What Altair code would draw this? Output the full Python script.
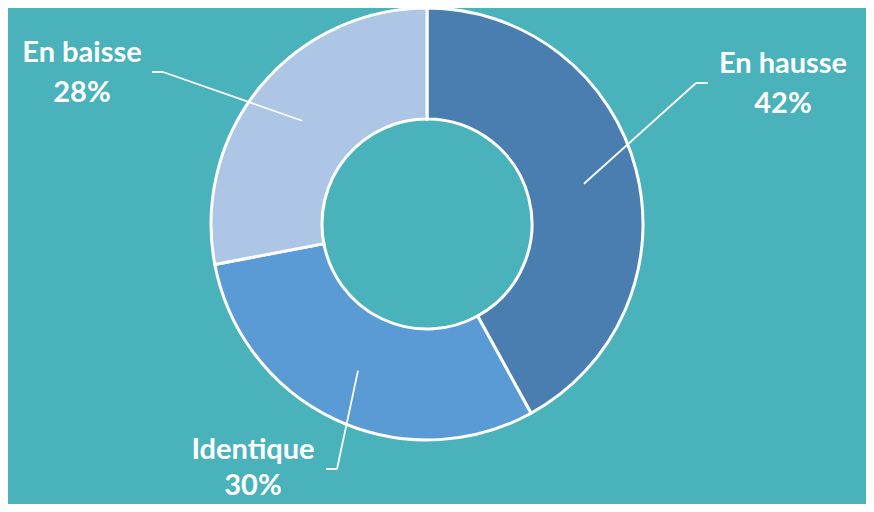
import math
import altair as alt
import pandas as pd

# ---- data ----
categories = ["En hausse", "Identique", "En baisse"]
shares = [42, 30, 28]
pct_labels = ["42%", "30%", "28%"]

# ---- style ----
colors = ["#4A7EB0", "#5B9BD5", "#ADC6E6"]
BG = "#49B2BB"
FONT = "Lato"

W, H = 858, 496
CX, CY = 419, 216
R_OUT, R_IN = 216, 105
R_LEAD = 162

# label layout in plot pixels: elbow of leader, end of short tick, text centre x,
# first baseline y, gap to second line
layout = {
    "En hausse": dict(elbow=(688, 75), end=(700, 75), tx=775, ty=65, gap=40),
    "Identique": dict(elbow=(329, 461), end=(318, 461), tx=245, ty=451, gap=36),
    "En baisse": dict(elbow=(155, 64), end=(144, 64), tx=74, ty=54, gap=40),
}

df = pd.DataFrame({"cat": categories, "share": shares, "pct": pct_labels,
                   "idx": list(range(len(categories)))})

total = sum(shares)
seg_rows, lab_rows = [], []
cum = 0
for c, s, p in zip(categories, shares, pct_labels):
    mid = (cum + s / 2) / total * 2 * math.pi
    cum += s
    sx = CX + R_LEAD * math.sin(mid)
    sy = CY - R_LEAD * math.cos(mid)
    L = layout[c]
    seg_rows.append(dict(x=sx, y=sy, x2=L["elbow"][0], y2=L["elbow"][1]))
    seg_rows.append(dict(x=L["elbow"][0], y=L["elbow"][1], x2=L["end"][0], y2=L["end"][1]))
    lab_rows.append(dict(cat=c, pct=p, x=L["tx"], y=L["ty"], y2=L["ty"] + L["gap"]))
seg = pd.DataFrame(seg_rows)
lab = pd.DataFrame(lab_rows)

arc = alt.Chart(df).mark_arc(
    innerRadius=R_IN, outerRadius=R_OUT, stroke="white", strokeWidth=3
).encode(
    theta=alt.Theta("share:Q", stack=True),
    color=alt.Color("cat:N", scale=alt.Scale(domain=categories, range=colors), legend=None),
    order=alt.Order("idx:Q"),
    x=alt.value(CX),
    y=alt.value(CY),
)

leaders = alt.Chart(seg).mark_rule(color="white", strokeWidth=1.8).encode(
    x=alt.X("x:Q", scale=None, axis=None),
    y=alt.Y("y:Q", scale=None, axis=None),
    x2="x2:Q",
    y2="y2:Q",
)

name_text = alt.Chart(lab).mark_text(
    font=FONT, fontWeight="bold", fontSize=29, color="white",
    align="center", baseline="alphabetic"
).encode(
    x=alt.X("x:Q", scale=None, axis=None),
    y=alt.Y("y:Q", scale=None, axis=None),
    text="cat:N",
)

pct_text = alt.Chart(lab).mark_text(
    font=FONT, fontWeight="bold", fontSize=29, color="white",
    align="center", baseline="alphabetic"
).encode(
    x=alt.X("x:Q", scale=None, axis=None),
    y=alt.Y("y2:Q", scale=None, axis=None),
    text="pct:N",
)

chart = alt.layer(arc, leaders, name_text, pct_text).properties(
    width=W, height=H, padding=0,
    background=BG,
    autosize=alt.AutoSizeParams(type="none"),
).configure_view(stroke=None)

chart.save("out.html", embed_options={"renderer": "svg", "actions": False})
